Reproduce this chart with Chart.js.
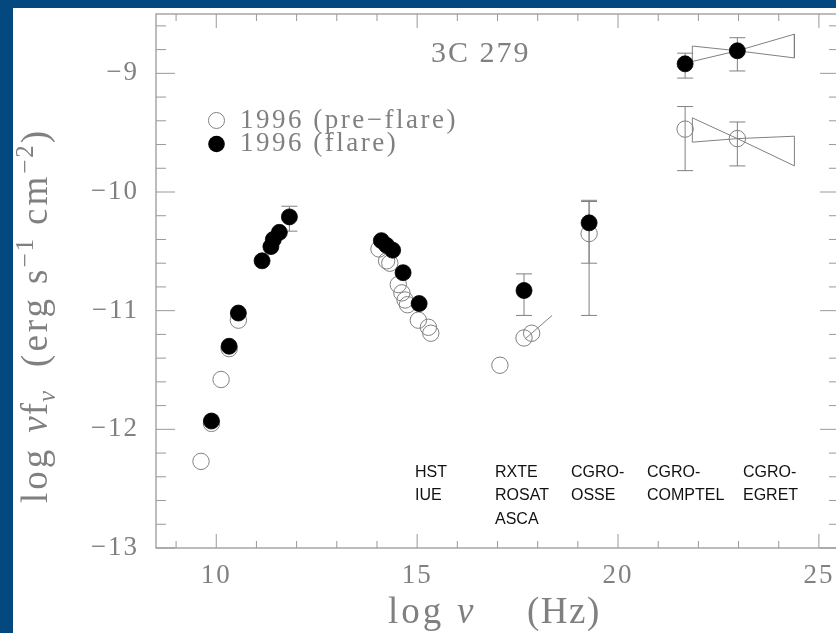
<!DOCTYPE html>
<html>
<head>
<meta charset="utf-8">
<title>3C 279</title>
<script src="https://cdn.jsdelivr.net/npm/chart.js@4.4.0/dist/chart.umd.min.js"></script>
<style>
    html, body { margin: 0; padding: 0; overflow: hidden; background: #03487f; width: 836px; height: 633px; }
    #sheet { position: absolute; left: 13px; top: 8px; width: 900px; height: 700px; background: #fff; }
    #sed-chart { position: absolute; left: 0; top: 0; }
</style>
</head>
<body>
<div id="sheet"></div>
<canvas id="sed-chart" width="870" height="633"></canvas>
<script>
// log nu (Hz) / log nuF_nu (erg s^-1 cm^-2)
const flare_x  = [9.88, 10.32, 10.55, 11.14, 11.36, 11.42, 11.57, 11.82, 14.11, 14.24, 14.39, 14.65, 15.05, 17.66, 19.28, 21.67, 22.97];
const flare_y  = [-11.93, -11.30, -11.02, -10.58, -10.46, -10.40, -10.34, -10.21, -10.41, -10.45, -10.49, -10.68, -10.94, -10.83, -10.26, -8.92, -8.81];
const flare_hi = [0, 0, 0, 0, 0, 0, 0, 0.09, 0, 0, 0, 0, 0, 0.14, 0.18, 0.09, 0.11];
const flare_lo = [0, 0, 0, 0, 0, 0, 0, 0.12, 0, 0, 0, 0, 0, 0.21, 0.34, 0.12, 0.17];

const pre_x  = [9.62, 9.88, 10.12, 10.32, 10.55, 14.05, 14.24, 14.32, 14.53, 14.62, 14.70, 14.76, 15.03, 15.28, 15.34, 17.06, 17.66, 17.85, 19.28, 21.67, 22.97];
const pre_y  = [-12.27, -11.95, -11.58, -11.32, -11.08, -10.48, -10.58, -10.60, -10.78, -10.85, -10.91, -10.95, -11.08, -11.14, -11.19, -11.46, -11.23, -11.19, -10.35, -9.47, -9.55];
const pre_hi = [0, 0, 0, 0, 0, 0, 0, 0, 0, 0, 0, 0, 0, 0, 0, 0, 0, 0, 0.28, 0.19, 0.14];
const pre_lo = [0, 0, 0, 0, 0, 0, 0, 0, 0, 0, 0, 0, 0, 0, 0, 0, 0, 0, 0.69, 0.35, 0.23];

// X-ray power law slope
const xray_x = [17.68, 18.36];
const xray_y = [-11.24, -11.04];

// EGRET butterflies (closed outline)
const bow_flare_x = [21.85, 22.97, 24.39, 24.39, 22.97, 21.85, 21.85];
const bow_flare_y = [-8.77, -8.81, -8.67, -8.87, -8.81, -8.90, -8.77];
const bow_pre_x   = [21.85, 22.97, 24.39, 24.39, 22.97, 21.85, 21.85];
const bow_pre_y   = [-9.375, -9.55, -9.78, -9.53, -9.55, -9.58, -9.375];

const x_labels = [10, 15, 20, 25];
const y_labels = [-13, -12, -11, -10, -9];

const instruments = [
    { x: 415, lines: ["HST", "IUE"] },
    { x: 495, lines: ["RXTE", "ROSAT", "ASCA"] },
    { x: 571, lines: ["CGRO-", "OSSE"] },
    { x: 647, lines: ["CGRO-", "COMPTEL"] },
    { x: 743, lines: ["CGRO-", "EGRET"] },
];

const GREY = "#808080";
const SERIF = "'Liberation Serif', 'DejaVu Serif', serif";
const SANS = "'Liberation Sans', Arial, sans-serif";

const pts = (xs, ys) => xs.map((x, i) => ({ x: x, y: ys[i] }));

const minus = (v) => (v < 0 ? "\u2212" + Math.abs(v) : String(v));

const draw_text = (ctx, txt, x, y, size, spacing, color, family, style) => {
    ctx.font = `${style || ""} ${size}px ${family || SERIF}`;
    ctx.letterSpacing = `${spacing}px`;
    ctx.fillStyle = color || GREY;
    ctx.textAlign = "left";
    ctx.textBaseline = "alphabetic";
    ctx.fillText(txt, x, y);
    return ctx.measureText(txt).width;
};

const sed_plugin = {
    id: "sed_plugin",
    beforeDraw(chart) {
        chart.ctx.letterSpacing = "2px";
    },
    beforeDatasetsDraw(chart) {
        const ctx = chart.ctx;
        const sx = chart.scales.x, sy = chart.scales.y;
        ctx.save();
        ctx.strokeStyle = GREY;
        ctx.lineWidth = 1;
        const bars = (xs, ys, hi, lo) => {
            xs.forEach((x, i) => {
                if (!hi[i] && !lo[i]) return;
                const px = sx.getPixelForValue(x);
                const top = sy.getPixelForValue(ys[i] + hi[i]);
                const bot = sy.getPixelForValue(ys[i] - lo[i]);
                ctx.beginPath();
                ctx.moveTo(px, top); ctx.lineTo(px, bot);
                ctx.moveTo(px - 8, top); ctx.lineTo(px + 8, top);
                ctx.moveTo(px - 8, bot); ctx.lineTo(px + 8, bot);
                ctx.stroke();
            });
        };
        bars(pre_x, pre_y, pre_hi, pre_lo);
        bars(flare_x, flare_y, flare_hi, flare_lo);
        ctx.restore();
    },
    afterDraw(chart) {
        const ctx = chart.ctx;
        const a = chart.chartArea;
        const sx = chart.scales.x, sy = chart.scales.y;
        ctx.save();

        // frame and inward ticks on all four sides
        ctx.strokeStyle = "#999";
        ctx.lineWidth = 1.3;
        ctx.strokeRect(a.left, a.top, a.right - a.left, a.bottom - a.top);
        ctx.lineWidth = 1;
        ctx.beginPath();
        for (let v = 9; v <= 25; v++) {
            const px = sx.getPixelForValue(v);
            const len = v % 5 === 0 ? 14 : 7;
            ctx.moveTo(px, a.bottom); ctx.lineTo(px, a.bottom - len);
            ctx.moveTo(px, a.top); ctx.lineTo(px, a.top + len);
        }
        for (let k = -65; k <= -43; k++) {
            const py = sy.getPixelForValue(k / 5);
            const len = k % 5 === 0 ? 19 : 10;
            ctx.moveTo(a.left, py); ctx.lineTo(a.left + len, py);
            ctx.moveTo(a.right, py); ctx.lineTo(a.right - len, py);
        }
        ctx.stroke();

        // title
        draw_text(ctx, "3C 279", 431, 62, 30, 2);

        // legend
        ctx.lineWidth = 1;
        ctx.strokeStyle = GREY;
        ctx.beginPath();
        ctx.arc(216.5, 120.5, 8, 0, Math.PI * 2);
        ctx.stroke();
        ctx.fillStyle = "#000";
        ctx.beginPath();
        ctx.arc(216.5, 144, 8.3, 0, Math.PI * 2);
        ctx.fill();
        draw_text(ctx, "1996 (pre\u2212flare)", 240, 128, 27, 2.5);
        draw_text(ctx, "1996 (flare)", 240, 151, 27, 2.5);

        // instrument names
        instruments.forEach((ins) => {
            ins.lines.forEach((ln, j) => {
                draw_text(ctx, ln, ins.x, 477 + j * 23.3, 16, 0, "#111", SANS);
            });
        });

        // x axis title
        draw_text(ctx, "log", 388, 623, 37, 3);
        draw_text(ctx, "\u03bd", 457, 623, 37, 0, GREY, SERIF, "italic");
        draw_text(ctx, "(Hz)", 527, 623, 37, 1.5);

        // y axis title, rotated
        ctx.translate(47, 503);
        ctx.rotate(-Math.PI / 2);
        let cx = 0;
        cx += draw_text(ctx, "log", cx, 0, 37, 3);
        cx += 14;
        cx += draw_text(ctx, "\u03bd", cx, 0, 37, 1, GREY, SERIF, "italic");
        cx += draw_text(ctx, "f", cx, 0, 37, 1);
        cx += draw_text(ctx, "\u03bd", cx, 8, 25, 0, GREY, SERIF, "italic");
        cx += 24;
        cx += draw_text(ctx, "(erg", cx, 0, 37, 3);
        cx += 12;
        cx += draw_text(ctx, "s", cx, 0, 37, 2);
        cx += draw_text(ctx, "\u22121", cx, -14, 25, 2);
        cx += 12;
        cx += draw_text(ctx, "cm", cx, 0, 37, 3);
        cx += draw_text(ctx, "\u22122", cx, -14, 25, 2);
        draw_text(ctx, ")", cx, 0, 37, 0);

        ctx.restore();
    },
};

const tick_font = { family: SERIF, size: 27 };

new Chart(document.getElementById("sed-chart").getContext("2d"), {
    type: "scatter",
    data: {
        datasets: [
            {
                label: "1996 (flare)",
                data: pts(flare_x, flare_y),
                pointRadius: 8,
                pointBackgroundColor: "#000",
                pointBorderColor: "#000",
                pointBorderWidth: 0.8,
                order: 0,
            },
            {
                label: "1996 (pre-flare)",
                data: pts(pre_x, pre_y),
                pointRadius: 8.2,
                pointBackgroundColor: "rgba(0,0,0,0)",
                pointBorderColor: GREY,
                pointBorderWidth: 1,
                order: 1,
            },
            {
                label: "X-ray slope",
                data: pts(xray_x, xray_y),
                showLine: true,
                pointRadius: 0,
                borderColor: GREY,
                borderWidth: 1,
                order: 2,
            },
            {
                label: "EGRET flare",
                data: pts(bow_flare_x, bow_flare_y),
                showLine: true,
                pointRadius: 0,
                borderColor: GREY,
                borderWidth: 1,
                order: 2,
            },
            {
                label: "EGRET pre-flare",
                data: pts(bow_pre_x, bow_pre_y),
                showLine: true,
                pointRadius: 0,
                borderColor: GREY,
                borderWidth: 1,
                order: 2,
            },
        ],
    },
    options: {
        responsive: false,
        animation: false,
        devicePixelRatio: 1,
        layout: { padding: { top: 14, right: 31, left: 0, bottom: 0 } },
        plugins: {
            legend: { display: false },
            tooltip: { enabled: false },
        },
        scales: {
            x: {
                type: "linear",
                min: 8.5,
                max: 25.5,
                afterBuildTicks: (s) => { s.ticks = x_labels.map((v) => ({ value: v })); },
                afterFit: (s) => { s.height = 85; s.paddingLeft = 0; s.paddingRight = 0; },
                grid: { display: false, drawTicks: false },
                border: { display: false },
                ticks: { font: tick_font, color: GREY, padding: 12, maxRotation: 0, autoSkip: false, callback: (v) => String(v) },
            },
            y: {
                type: "linear",
                min: -13,
                max: -8.5,
                afterBuildTicks: (s) => { s.ticks = y_labels.map((v) => ({ value: v })); },
                afterFit: (s) => { s.width = 156; s.paddingTop = 0; s.paddingBottom = 0; },
                grid: { display: false, drawTicks: false },
                border: { display: false },
                ticks: { font: tick_font, color: GREY, padding: 17, autoSkip: false, callback: (v) => minus(v) },
            },
        },
    },
    plugins: [sed_plugin],
});
</script>
</body>
</html>
